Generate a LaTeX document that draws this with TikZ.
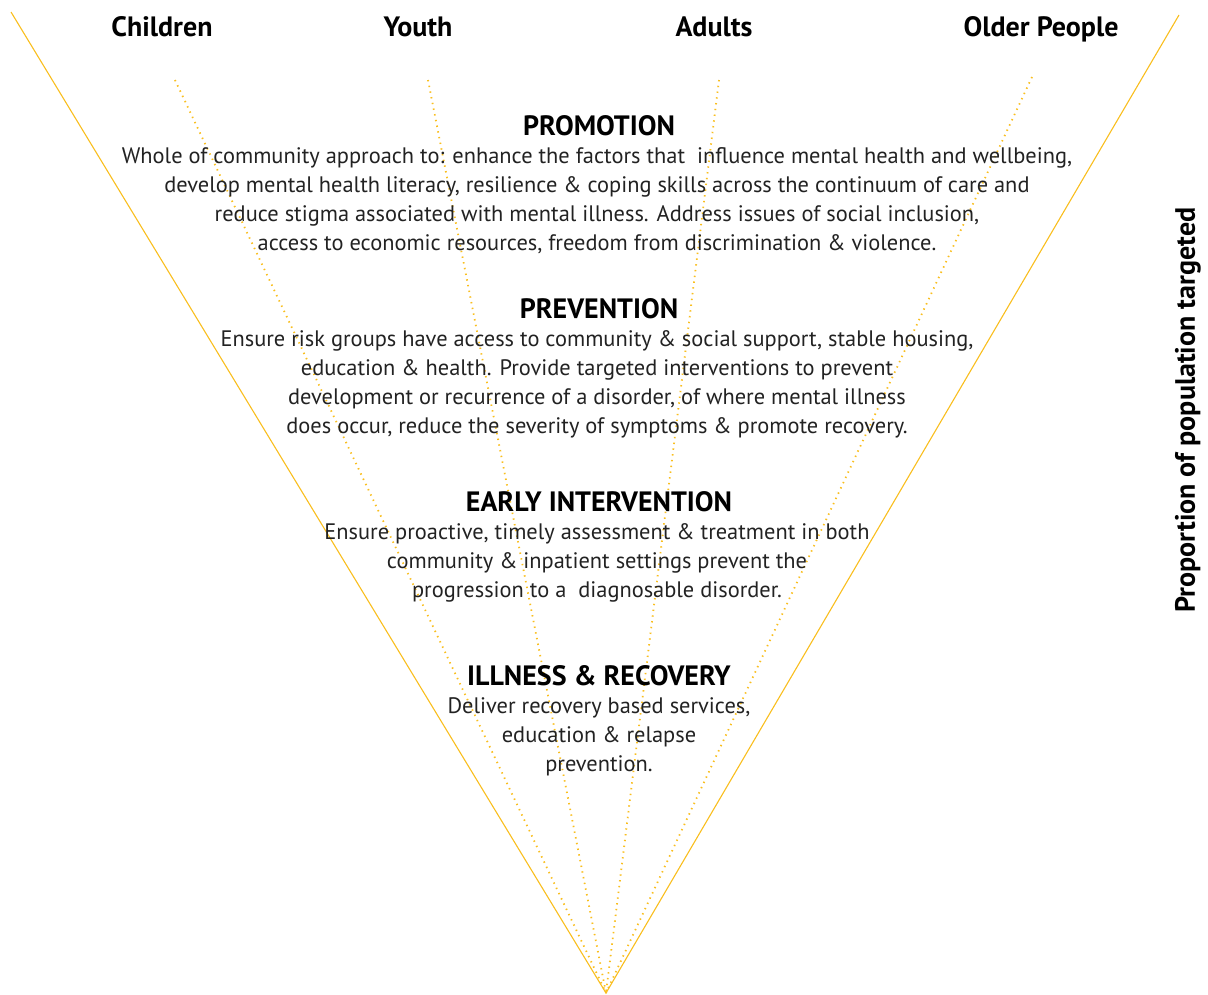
\documentclass[tikz,border=0pt]{standalone}
\usepackage{fontspec}
\setmainfont{PT Sans}
\definecolor{gold}{HTML}{F9BE1E}
\definecolor{txt}{HTML}{222222}
\begin{document}
\begin{tikzpicture}[x=1pt,y=-1pt,
  edge/.style={draw=gold,line width=1.1pt},
  dots/.style={draw=gold,line width=1.8pt,dash pattern=on 1.4pt off 4.4pt},
  grp/.style={font=\bfseries\fontsize{28}{32}\selectfont,anchor=base,inner sep=0pt},
  head/.style={font=\bfseries\fontsize{28}{32}\selectfont,anchor=base,inner sep=0pt},
  body/.style={font=\fontsize{22.4}{29}\selectfont,align=center,anchor=north,inner sep=0pt,text=txt}]
\useasboundingbox (0,0) rectangle (1208,994);
% apex and ends
\coordinate (apex) at (606,993);
\coordinate (tl) at (11,12);
\coordinate (tr) at (1179,15);
\coordinate (dc) at (175,80);
\coordinate (dy) at (428,80);
\coordinate (da) at (719,80);
\coordinate (do) at (1032,77);
\draw[edge] (tl) -- (apex) -- (tr);
\draw[dots] (dc) -- (apex);
\draw[dots] (dy) -- (apex);
\draw[dots] (da) -- (apex);
\draw[dots] (do) -- (apex);
% group labels
\node[grp] (children) at (162,36) {Children};
\node[grp] (youth) at (418,36) {Youth};
\node[grp] (adults) at (714,36) {Adults};
\node[grp] (older) at (1041,36) {Older People};
\node[grp,rotate=90,anchor=center] (prop) at (1188,410) {Proportion of population targeted};
% blocks
\node[head] (promo) at (599,135) {PROMOTION};
\node[body] (promotxt) at (597,147) {Whole of community approach to: enhance the factors that\ \ influence mental health and wellbeing,\\
develop mental health literacy, resilience \& coping skills across the continuum of care and\\
reduce stigma associated with mental illness. Address issues of social inclusion,\\
access to economic resources, freedom from discrimination \& violence.};
\node[head] (prev) at (599,318) {PREVENTION};
\node[body] (prevtxt) at (597,330) {Ensure risk groups have access to community \& social support, stable housing,\\
education \& health. Provide targeted interventions to prevent\\
development or recurrence of a disorder, of where mental illness\\
does occur, reduce the severity of symptoms \& promote recovery.};
\node[head] (early) at (599,511) {EARLY INTERVENTION};
\node[body] (earlytxt) at (597,523) {Ensure proactive, timely assessment \& treatment in both\\
community \& inpatient settings prevent the\\
progression to a\ \ diagnosable disorder.};
\node[head] (ill) at (599,685) {ILLNESS \& RECOVERY};
\node[body] (illtxt) at (599,697) {Deliver recovery based services,\\
education \& relapse\\
prevention.};
\end{tikzpicture}
\end{document}
